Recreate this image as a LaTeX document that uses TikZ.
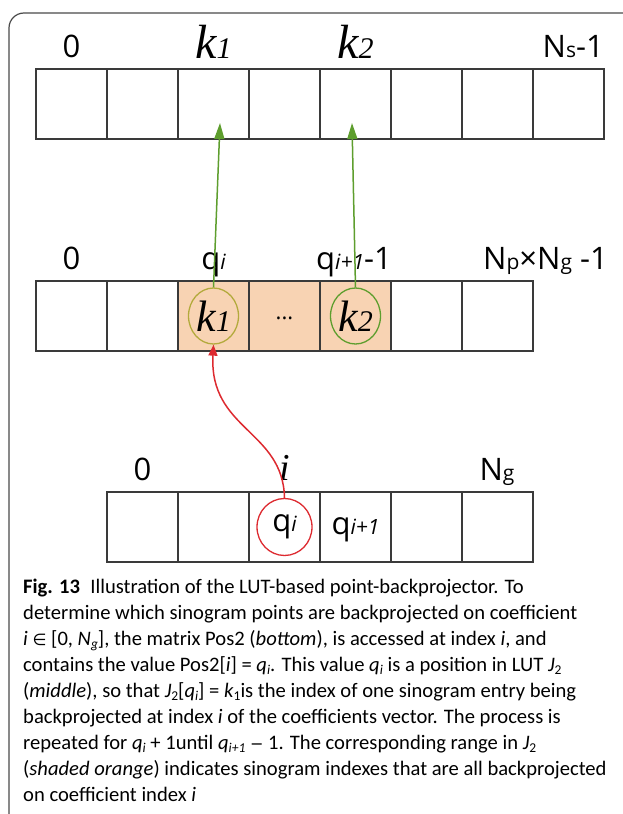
\documentclass[tikz,border=0pt]{standalone}
\usepackage{fontspec}
\setmainfont{Carlito}
\newfontfamily\lblf{Open Sans}
\newfontfamily\serifk{Liberation Serif}
\newfontfamily\symf{DejaVu Sans}
\usetikzlibrary{arrows.meta,shapes.geometric}
\definecolor{cellline}{HTML}{3A3A3A}
\definecolor{peach}{HTML}{F8D3B3}
\definecolor{grn}{HTML}{5E9E2E}
\definecolor{olive}{HTML}{B3AA3C}
\definecolor{rd}{HTML}{DD2A30}
\definecolor{framec}{HTML}{4A4A4A}
\newcommand\lo[1]{{\fontsize{21}{21}\selectfont #1}}
\newcommand\kk[1]{{\serifk\itshape k{\fontsize{30}{30}\selectfont #1}}}
\newcommand\sbx[1]{\raisebox{-0.3ex}{\fontsize{13.5}{13.5}\selectfont #1}}
\tikzset{
  cell/.style={draw=cellline, line width=1.3pt, minimum width=71pt, minimum height=70pt, inner sep=0pt, outer sep=0pt},
  shd/.style={cell, fill=peach},
  lbl/.style={font=\lblf\fontsize{31}{31}\selectfont, inner sep=0pt, anchor=base},
  ktop/.style={font=\fontsize{48}{48}\selectfont},
  kfont/.style={font=\fontsize{44}{44}\selectfont},
  ring/.style={ellipse, line width=1.3pt, minimum width=50pt, minimum height=56pt, inner sep=0pt},
  captxt/.style={font=\fontsize{20.6}{20.6}\selectfont, anchor=base west, inner sep=0pt},
}
\begin{document}
\begin{tikzpicture}[x=1pt,y=-1pt]
\useasboundingbox (0,0) rectangle (623,814);
\draw[framec, line width=1.2pt, rounded corners=15pt] (9,814) -- (9,13) -- (623,13);
% top array
\foreach \i in {1,...,8} \node[cell] (t\i) at ({36+71*(\i-0.5)},104) {};
% middle array
\foreach \i in {1,...,7} \node[cell] (m\i) at ({36+71*(\i-0.5)},316) {};
\foreach \i in {3,4,5} \node[shd] (s\i) at ({36+71*(\i-0.5)},316) {};
% bottom array
\foreach \i in {1,...,6} \node[cell] (b\i) at ({107+71*(\i-0.5)},527) {};
% top labels
\node[lbl] (lt0) at (71.5,57) {0};
\node[lbl, ktop] (ltk1) at (213.5,58) {\kk{1}};
\node[lbl, ktop] (ltk2) at (355.5,58) {\kk{2}};
\node[lbl, anchor=base east] (ltn) at (604,57) {N\lo{s}-1};
% middle labels
\node[lbl] (lm0) at (71.5,269) {0};
\node[lbl] (lmq) at (213.5,269) {q\lo{\itshape i}};
\node[lbl] (lmq2) at (354,269) {q\lo{\itshape i+1}-1};
\node[lbl, anchor=base east] (lmn) at (608,269) {N\lo{p}×N\lo{g} -1};
% bottom labels
\node[lbl] (lb0) at (142.5,480) {0};
\node[lbl, font=\fontsize{38}{38}\selectfont\serifk\itshape] (lbi) at (284.5,480) {i};
\node[lbl] (lbn) at (497,480) {N\lo{g}};
% circles
\node[ring, draw=olive, kfont] (c1) at (213.5,316) {\kk{1}};
\node[lbl, anchor=center] (dots) at (284.5,318) {\fontsize{22}{22}\selectfont ...};
\node[ring, draw=grn, kfont] (c2) at (355.5,316) {\kk{2}};
\node[ring, draw=rd, minimum width=55pt, minimum height=57pt, font=\lblf\fontsize{31}{31}\selectfont] (c3) at (284.5,527) {q\lo{\itshape i}};
\node[lbl, anchor=center] (bq2) at (355.5,530) {q\lo{\itshape i+1}};
% connectors
\coordinate (tip1) at (220,123);
\coordinate (tip2) at (352,123);
\draw[grn, line width=1.5pt, -{Triangle[length=16pt,width=10pt]}] (c1.north) -- (tip1);
\draw[grn, line width=1.5pt, -{Triangle[length=16pt,width=10pt]}] (c2.north) -- (tip2);
\draw[rd, line width=1.5pt, -{Triangle[length=11pt,width=9pt]}] (c3.north) .. controls (283,430) and (209,430) .. (c1.south);
% caption
\node[captxt] (l1) at (23,593) {\textbf{Fig. 13}\enspace Illustration of the LUT-based point-backprojector. To};
\node[captxt] (l2) at (23,619.1) {determine which sinogram points are backprojected on coefficient};
\node[captxt] (l3) at (23,645.2) {\textit{i} {\symf\fontsize{16}{16}\selectfont ∈} [0, \textit{N}\sbx{\itshape g}], the matrix Pos2 (\textit{bottom}), is accessed at index \textit{i}, and};
\node[captxt] (l4) at (23,671.3) {contains the value Pos2[\textit{i}] = \textit{q}\sbx{\itshape i}. This value \textit{q}\sbx{\itshape i} is a position in LUT \textit{J}\sbx{2}};
\node[captxt] (l5) at (23,697.4) {(\textit{middle}), so that \textit{J}\sbx{2}[\textit{q}\sbx{\itshape i}] = \textit{k}\sbx{1}is the index of one sinogram entry being};
\node[captxt] (l6) at (23,723.5) {backprojected at index \textit{i} of the coefficients vector. The process is};
\node[captxt] (l7) at (23,749.6) {repeated for \textit{q}\sbx{\itshape i} + 1until \textit{q}\sbx{\itshape i+1} {\symf\fontsize{16}{16}\selectfont −} 1. The corresponding range in \textit{J}\sbx{2}};
\node[captxt] (l8) at (23,775.7) {(\textit{shaded orange}) indicates sinogram indexes that are all backprojected};
\node[captxt] (l9) at (23,801.8) {on coefficient index \textit{i}};
\end{tikzpicture}
\end{document}
